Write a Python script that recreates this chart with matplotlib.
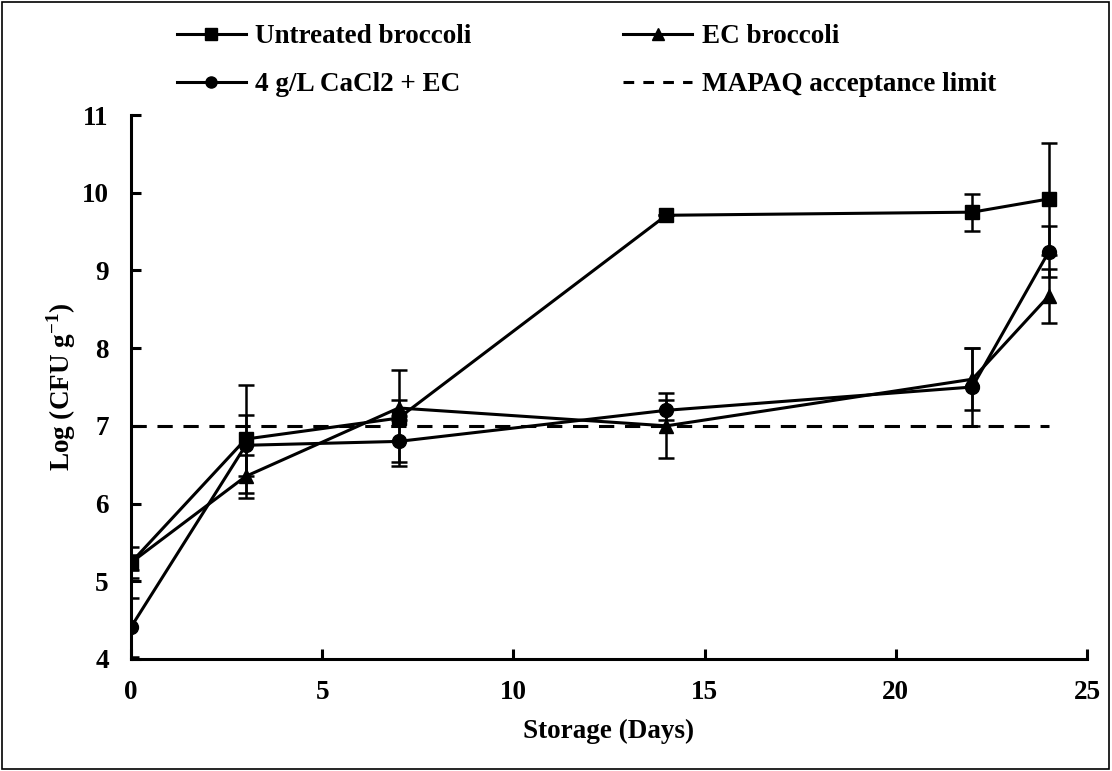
import matplotlib
matplotlib.use('Agg')
import matplotlib.pyplot as plt
from matplotlib.lines import Line2D
from matplotlib.patches import Rectangle

plt.rcParams['font.family'] = ['Liberation Serif', 'DejaVu Serif']
plt.rcParams['font.weight'] = 'bold'
plt.rcParams['mathtext.fontset'] = 'custom'
plt.rcParams['mathtext.rm'] = 'Liberation Serif:bold'
plt.rcParams['mathtext.bf'] = 'Liberation Serif:bold'

# Données (jours de stockage)
days = [0, 3, 7, 14, 22, 24]

untreated = [5.24, 6.83, 7.10, 9.71, 9.75, 9.92]
untreated_err = [0.10, 0.70, 0.62, 0.0, 0.24, 0.72]

ec = [5.24, 6.35, 7.23, 7.00, 7.60, 8.67]
ec_err = [0.20, 0.28, 0.10, 0.42, 0.40, 0.35]

cacl2 = [4.41, 6.75, 6.80, 7.20, 7.50, 9.24]
cacl2_err = [0.38, 0.39, 0.27, 0.13, 0.50, 0.33]

limit = 7.0
limit_days = [0, 24]

labels = ['Untreated broccoli', 'EC broccoli', '4 g/L CaCl2 + EC', 'MAPAQ acceptance limit']
fs = 19.5

fig = plt.figure(figsize=(11.12, 7.71), dpi=100)
ax = fig.add_axes([0.1178, 0.1453, 0.8597, 0.7055])

common = dict(color='black', lw=2.2, capsize=6, elinewidth=1.8, capthick=1.8, ms=10)
ax.errorbar(days, untreated, yerr=untreated_err, marker='s', **common)
ax.errorbar(days, ec, yerr=ec_err, marker='^', **common)
ax.errorbar(days, cacl2, yerr=cacl2_err, marker='o', **common)
ax.plot(limit_days, [limit, limit], 'k--', lw=2.2, dashes=(5, 3.5))

ax.set_xlim(0, 25)
ax.set_ylim(4, 11)
ax.set_xticks(range(0, 26, 5))
ax.set_yticks(range(4, 12))
ax.spines['top'].set_visible(False)
ax.spines['right'].set_visible(False)
ax.spines['left'].set_linewidth(2.2)
ax.spines['bottom'].set_linewidth(2.2)
ax.tick_params(direction='in', width=2.2, length=7, labelsize=fs)
ax.tick_params(axis='x', pad=15)
ax.tick_params(axis='y', pad=16)
for lab in ax.get_xticklabels() + ax.get_yticklabels():
    lab.set_fontweight('bold')

ax.set_xlabel('Storage (Days)', fontsize=fs, fontweight='bold', labelpad=10)
ax.set_ylabel('Log (CFU g$^{\\mathbf{-1}}$)', fontsize=fs, fontweight='bold', labelpad=3)

# Légende (ordre : ligne par ligne)
handles = [
    Line2D([], [], color='black', lw=2.2, marker='s', ms=8),
    Line2D([], [], color='black', lw=2.2, marker='^', ms=8),
    Line2D([], [], color='black', lw=2.2, marker='o', ms=8),
    Line2D([], [], color='black', lw=2.2, ls='--', dashes=(3.5, 3)),
]
order = [0, 2, 1, 3]
fig.legend([handles[i] for i in order], [labels[i] for i in order],
           loc='upper left', bbox_to_anchor=(0.137, 1.0), ncol=2, frameon=False,
           handlelength=2.55, columnspacing=5.6, labelspacing=0.85,
           handletextpad=0.35, prop={'weight': 'bold', 'size': fs})

fig.patches.append(Rectangle((0.002, 0.003), 0.995, 0.994, transform=fig.transFigure,
                             fill=False, edgecolor='black', lw=1.2))

fig.savefig('out.png', dpi=100)
